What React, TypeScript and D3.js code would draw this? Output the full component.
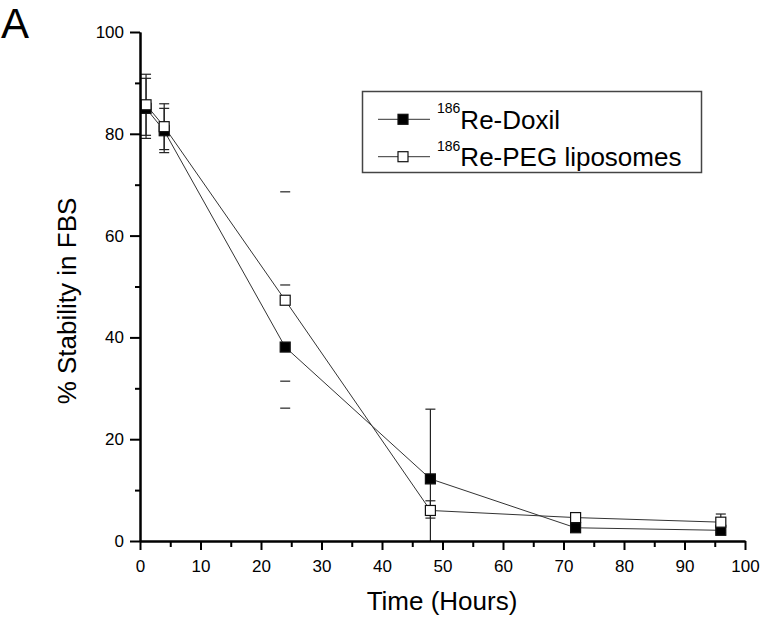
import React, { useEffect, useRef } from 'react';
import * as d3 from 'd3';

// time points (hours)
const hours = [1, 4, 24, 48, 72, 96];

// 186Re-Doxil (filled squares)
const doxil = [85.0, 80.6, 38.1, 12.2, 2.6, 2.1];
const doxilErrUp = [5.9, 4.4, 12.2, 13.7, 0.4, 0.4];
const doxilErrDown = [5.9, 4.3, 12.0, 13.7, 0.4, 0.4];

// 186Re-PEG liposomes (open squares)
const peg = [85.7, 81.4, 47.3, 6.0, 4.6, 3.7];
const pegErrUp = [6.0, 4.5, 21.3, 1.9, 0.8, 1.6];
const pegErrDown = [6.0, 4.5, 15.9, 1.5, 0.8, 1.6];

// in the original figure the whiskers at 24 h only show their caps
const showStem = [true, true, false, true, true, true];

const xMajor = [0, 10, 20, 30, 40, 50, 60, 70, 80, 90, 100];
const xMinor = [5, 15, 25, 35, 45, 55, 65, 75, 85, 95];
const yMajor = [0, 20, 40, 60, 80, 100];
const yMinor = [10, 30, 50, 70, 90];

const FONT = 'Liberation Sans, Arial, Helvetica, sans-serif';

export default function App() {
  const ref = useRef<SVGSVGElement>(null);

  useEffect(() => {
    const width = 764;
    const height = 623;
    const svg = d3.select(ref.current);
    svg.selectAll('*').remove();
    svg.attr('width', width).attr('height', height);

    const x = d3.scaleLinear().domain([0, 100]).range([140, 745]);
    const y = d3.scaleLinear().domain([0, 100]).range([541, 32]);

    // panel letter
    svg.append('text')
      .attr('x', 1).attr('y', 38)
      .style('font-family', FONT).style('font-size', '42px')
      .text('A');

    const series = [
      { name: 'Re-Doxil', vals: doxil, up: doxilErrUp, down: doxilErrDown, fill: '#000' },
      { name: 'Re-PEG liposomes', vals: peg, up: pegErrUp, down: pegErrDown, fill: '#fff' },
    ];

    const line = d3.line<number>()
      .x((d, i) => x(hours[i]))
      .y((d) => y(d));

    const plot = svg.append('g');

    series.forEach((s) => {
      plot.append('path')
        .attr('d', line(s.vals))
        .attr('fill', 'none')
        .attr('stroke', '#333')
        .attr('stroke-width', 1);
    });

    // error bars
    const cap = 5;
    series.forEach((s) => {
      s.vals.forEach((v, i) => {
        const cx = x(hours[i]);
        const top = y(v + s.up[i]);
        const bot = y(Math.max(0, v - s.down[i]));
        const g = plot.append('g').attr('stroke', '#222').attr('stroke-width', 1.2);
        if (showStem[i]) {
          g.append('line').attr('x1', cx).attr('x2', cx).attr('y1', top).attr('y2', bot);
        }
        g.append('line').attr('x1', cx - cap).attr('x2', cx + cap).attr('y1', top).attr('y2', top);
        if (v - s.down[i] > 0) {
          g.append('line').attr('x1', cx - cap).attr('x2', cx + cap).attr('y1', bot).attr('y2', bot);
        }
      });
    });

    // markers
    const ms = 10;
    series.forEach((s) => {
      plot.selectAll(null)
        .data(s.vals)
        .enter()
        .append('rect')
        .attr('x', (d, i) => x(hours[i]) - ms / 2)
        .attr('y', (d) => y(d) - ms / 2)
        .attr('width', ms)
        .attr('height', ms)
        .attr('fill', s.fill)
        .attr('stroke', '#111')
        .attr('stroke-width', 1.2);
    });

    // axes
    const styleAxis = (g: any) => {
      g.select('.domain').attr('stroke', '#000').attr('stroke-width', 2);
      g.selectAll('.tick line').attr('stroke', '#000').attr('stroke-width', 2);
      g.selectAll('text').style('font-family', FONT).style('font-size', '17px').attr('fill', '#000');
    };

    svg.append('g')
      .attr('transform', 'translate(0,541)')
      .call(d3.axisBottom(x).tickValues(xMinor).tickSize(6).tickSizeOuter(0).tickFormat(() => ''))
      .call(styleAxis);
    svg.append('g')
      .attr('transform', 'translate(0,541)')
      .call(d3.axisBottom(x).tickValues(xMajor).tickSize(9).tickPadding(10).tickSizeOuter(0).tickFormat(d3.format('d')))
      .call(styleAxis);

    svg.append('g')
      .attr('transform', 'translate(140,0)')
      .call(d3.axisLeft(y).tickValues(yMinor).tickSize(5).tickSizeOuter(0).tickFormat(() => ''))
      .call(styleAxis);
    svg.append('g')
      .attr('transform', 'translate(140,0)')
      .call(d3.axisLeft(y).tickValues(yMajor).tickSize(10).tickPadding(6).tickSizeOuter(0).tickFormat(d3.format('d')))
      .call(styleAxis);

    // axis titles
    svg.append('text')
      .attr('x', 442).attr('y', 610)
      .attr('text-anchor', 'middle')
      .style('font-family', FONT).style('font-size', '26px')
      .text('Time (Hours)');
    svg.append('text')
      .attr('transform', 'translate(76,301) rotate(-90)')
      .attr('text-anchor', 'middle')
      .style('font-family', FONT).style('font-size', '26px')
      .text('% Stability in FBS');

    // legend
    const lg = svg.append('g');
    lg.append('rect')
      .attr('x', 362.5).attr('y', 91.5)
      .attr('width', 339).attr('height', 81)
      .attr('fill', '#fff')
      .attr('stroke', '#444')
      .attr('stroke-width', 1.5);
    const rows = [119.3, 156.7];
    series.forEach((s, i) => {
      const ry = rows[i];
      lg.append('line')
        .attr('x1', 378).attr('x2', 430).attr('y1', ry).attr('y2', ry)
        .attr('stroke', '#333').attr('stroke-width', 1);
      lg.append('rect')
        .attr('x', 403 - ms / 2).attr('y', ry - ms / 2)
        .attr('width', ms).attr('height', ms)
        .attr('fill', s.fill).attr('stroke', '#111').attr('stroke-width', 1.2);
      const t = lg.append('text')
        .attr('x', 437).attr('y', ry + 9.5)
        .style('font-family', FONT).style('font-size', '26px');
      t.append('tspan').attr('dy', -15.5).style('font-size', '14px').text('186');
      t.append('tspan').attr('dy', 15.5).text(s.name);
    });
  }, []);

  return (
    <div id="chartArea" style={{ position: 'absolute', left: 0, top: 0 }}>
      <svg ref={ref}></svg>
    </div>
  );
}
